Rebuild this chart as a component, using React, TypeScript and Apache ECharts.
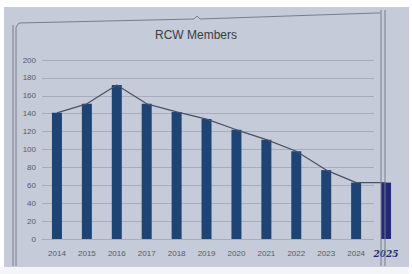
import React, { useEffect, useRef } from "react";
import * as echarts from "echarts";

const years = ["2014", "2015", "2016", "2017", "2018", "2019", "2020", "2021", "2022", "2023", "2024", "2025"];
const members = [141, 151, 172, 151, 142, 134, 122, 111, 98, 77, 63, 63];
const yTicks = { min: 0, max: 200, interval: 20 };

const BG = "#c5cbd8";
const BAR = "#1d4475";
const HAND_BAR = "#24287a";
const GRID = "#a6adbb";
const FRAME = "#777d8c";
const TEXT = "#565b68";

export default function App() {
  const ref = useRef<HTMLDivElement>(null);
  useEffect(() => {
    if (!ref.current) return;
    const chart = echarts.init(ref.current, undefined, { renderer: "svg" });
    chart.setOption({
      animation: false,
      backgroundColor: BG,
      grid: { left: 42, right: 11, top: 60, bottom: 35 },
      xAxis: {
        type: "category",
        data: years,
        axisLine: { lineStyle: { color: GRID } },
        axisTick: { show: false },
        axisLabel: {
          interval: 0,
          hideOverlap: false,
          margin: 10,
          fontSize: 8,
          color: TEXT,
          fontFamily: "'Liberation Sans', sans-serif",
          formatter: (v: string) => (v === years[years.length - 1] ? `{h|${v}}` : v),
          rich: {
            h: {
              fontSize: 9,
              fontStyle: "italic",
              fontWeight: "bold",
              color: HAND_BAR,
              fontFamily: "'DejaVu Serif', serif",
            },
          },
        },
      },
      yAxis: {
        type: "value",
        min: yTicks.min,
        max: yTicks.max,
        interval: yTicks.interval,
        axisLine: { show: false },
        axisTick: { show: false },
        splitLine: { lineStyle: { color: GRID, width: 1 } },
        axisLabel: {
          margin: 6,
          fontSize: 8,
          color: TEXT,
          fontFamily: "'Liberation Sans', sans-serif",
        },
      },
      series: [
        {
          type: "bar",
          z: 2,
          barWidth: 10,
          data: members.map((v, i) =>
            i === members.length - 1
              ? { value: v, itemStyle: { color: HAND_BAR } }
              : { value: v }
          ),
          itemStyle: { color: BAR },
        },
        {
          type: "line",
          z: 3,
          data: members,
          symbol: "none",
          lineStyle: { color: "#4a5068", width: 1.2 },
        },
      ],
      graphic: [
        // cover gridlines beyond original chart area
        { type: "rect", z: 1, shape: { x: 374, y: 52, width: 30, height: 188 }, style: { fill: BG } },
        // title
        {
          type: "text",
          z: 10,
          x: 196,
          y: 35,
          style: {
            text: "RCW Members",
            align: "center",
            verticalAlign: "middle",
            fontSize: 12,
            fontFamily: "'Liberation Sans', sans-serif",
            fill: "#3a3d46",
          },
        },
        // white photo border
        { type: "rect", z: 50, shape: { x: 0, y: 0, width: 412, height: 7 }, style: { fill: "#ffffff" } },
        { type: "rect", z: 50, shape: { x: 0, y: 0, width: 4, height: 274 }, style: { fill: "#ffffff" } },
        { type: "rect", z: 50, shape: { x: 0, y: 267, width: 412, height: 7 }, style: { fill: "#f4f5f8" } },
        { type: "rect", z: 50, shape: { x: 409, y: 0, width: 3, height: 274 }, style: { fill: "#ffffff" } },
        // chart frame lines
        {
          type: "polyline",
          z: 10,
          shape: { points: [[16, 266], [16, 27], [19, 23], [194, 19], [197, 16], [200, 19], [376, 13], [380, 13]] },
          style: { stroke: FRAME, lineWidth: 1, fill: "none" },
        },
        { type: "line", z: 10, shape: { x1: 13, y1: 25, x2: 13, y2: 266 }, style: { stroke: FRAME, lineWidth: 1 } },
        { type: "line", z: 10, shape: { x1: 381, y1: 10, x2: 381, y2: 266 }, style: { stroke: FRAME, lineWidth: 1 } },
        { type: "line", z: 10, shape: { x1: 385, y1: 10, x2: 385, y2: 266 }, style: { stroke: FRAME, lineWidth: 1 } },
      ],
    });
    return () => chart.dispose();
  }, []);
  return (
    <div
      ref={ref}
      style={{ position: "fixed", left: 0, top: 0, width: 412, height: 274 }}
    />
  );
}
